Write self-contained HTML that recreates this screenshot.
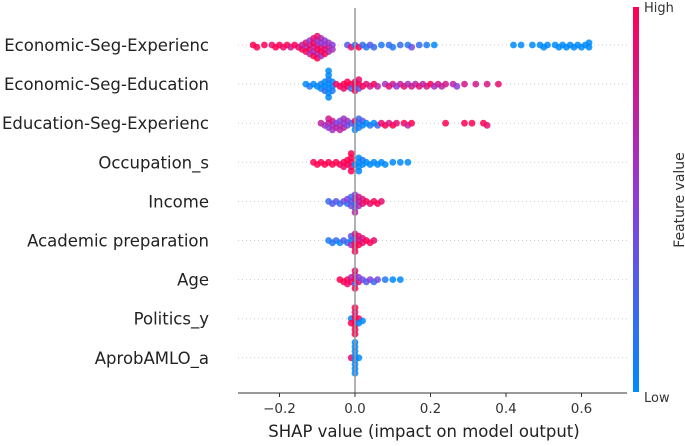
<!DOCTYPE html>
<html><head><meta charset="utf-8"><style>
body{margin:0;background:#fff}
svg{font-family:"DejaVu Sans","Liberation Sans",sans-serif}
</style></head><body>
<svg id="c" width="685" height="441" viewBox="0 0 685 441" xmlns="http://www.w3.org/2000/svg">
<defs><linearGradient id="cb" x1="0" y1="1" x2="0" y2="0">
<stop offset="0" stop-color="#008afb"/><stop offset="0.5" stop-color="#8c3cdc"/><stop offset="1" stop-color="#ff0052"/></linearGradient></defs>
<g id="rows"></g>
<g id="dots"></g>
<line x1="355" y1="8" x2="355" y2="393" stroke="#999" stroke-width="1.5"/>
<line x1="238" y1="393" x2="627" y2="393" stroke="#333" stroke-width="1"/>
<g id="ticks"></g>
<text x="424" y="437" font-size="16.5" text-anchor="middle" fill="#222">SHAP value (impact on model output)</text>
<rect x="633" y="7" width="6" height="385" fill="url(#cb)"/>
<text x="644" y="12" font-size="13" fill="#333">High</text>
<text x="644" y="402" font-size="13" fill="#333">Low</text>
<text transform="translate(684,200) rotate(-90)" font-size="14" text-anchor="middle" fill="#333">Feature value</text>
</svg>
<script>
const features=["Economic-Seg-Experienc","Economic-Seg-Education","Education-Seg-Experienc","Occupation_s","Income","Academic preparation","Age","Politics_y","AprobAMLO_a"];
const tickValues=[-0.2,0.0,0.2,0.4,0.6];
const tickLabels=["\u22120.2","0.0","0.2","0.4","0.6"];
const shap1=[-0.27,-0.26,-0.24,-0.22,-0.21,-0.20,-0.19,-0.18,-0.17,-0.16,-0.15,-0.14,-0.14,-0.13,-0.13,-0.13,-0.12,-0.12,-0.12,-0.12,-0.11,-0.11,-0.11,-0.11,-0.11,-0.10,-0.10,-0.10,-0.10,-0.10,-0.10,-0.09,-0.09,-0.09,-0.09,-0.09,-0.08,-0.08,-0.08,-0.08,-0.07,-0.07,-0.07,-0.06,-0.06,-0.02,-0.01,0.0,0.01,0.02,0.03,0.04,0.05,0.07,0.09,0.10,0.12,0.14,0.15,0.17,0.19,0.21,0.42,0.44,0.47,0.49,0.50,0.51,0.53,0.54,0.55,0.56,0.57,0.58,0.59,0.60,0.61,0.62,0.62];
const fv1=[1,1,1,0.9,1,1,0.9,1,0.8,1,0.9,0.7,1,0.6,0.9,1,0.8,1,0.5,0.7,0.7,1,0.6,0.9,1,0.8,1,0.6,0.7,0.9,1,0.9,0.5,1,0.7,0.6,0.6,0.9,0.5,1,0.8,0.6,0.7,0.5,0.6,0.3,0.9,0.2,1,0.2,0.1,0.3,0.2,0.1,0.2,0.1,0.2,0.1,0.4,0.2,0.1,0,0,0,0,0,0,0,0,0,0,0,0,0,0,0,0,0,0];
const shap2=[-0.13,-0.12,-0.11,-0.10,-0.09,-0.09,-0.08,-0.08,-0.08,-0.07,-0.07,-0.07,-0.07,-0.07,-0.07,-0.07,-0.06,-0.06,-0.06,-0.05,-0.04,-0.03,-0.03,-0.02,-0.02,-0.01,-0.01,0.0,0.0,0.0,0.01,0.01,0.01,0.02,0.03,0.04,0.05,0.06,0.08,0.09,0.10,0.11,0.12,0.13,0.14,0.15,0.16,0.17,0.18,0.19,0.20,0.21,0.22,0.23,0.24,0.26,0.27,0.29,0.32,0.35,0.38];
const fv2=[0,0.1,0,0,0.1,0,0,0,0.2,0,0,0.1,0,0,0,0,0,0,0.1,0.9,1,1,0.9,1,1,1,0.2,1,0.9,1,1,0.3,0.9,1,0.9,0.8,1,0.7,0.6,0.9,0.8,0.5,0.7,0.9,0.6,0.8,0.7,0.9,0.7,0.8,1,0.6,0.8,0.7,0.8,0.7,0.5,0.8,0.8,0.8,0.9];
const shap3=[-0.09,-0.08,-0.07,-0.07,-0.07,-0.06,-0.06,-0.06,-0.05,-0.05,-0.04,-0.04,-0.04,-0.03,-0.03,-0.03,-0.02,-0.02,-0.01,0.0,0.0,0.0,0.01,0.01,0.01,0.02,0.02,0.03,0.04,0.05,0.06,0.07,0.08,0.09,0.10,0.11,0.13,0.14,0.15,0.24,0.29,0.31,0.34,0.35];
const fv3=[0.7,0.6,0.7,0.5,0.8,0.6,0.8,0.6,0.5,0.7,0.6,0.4,0.7,0.5,0.7,0.6,0.4,0.6,0.3,0.2,0.9,0,0,0.1,0.2,0,0.3,0,0.1,0,0.2,0.9,1,0.8,1,0.9,1,0.7,1,1,1,1,1,0.9];
const shap4=[-0.11,-0.10,-0.09,-0.08,-0.07,-0.06,-0.05,-0.04,-0.03,-0.03,-0.02,-0.02,-0.01,-0.01,-0.01,-0.01,-0.01,0.0,0.01,0.01,0.01,0.01,0.02,0.02,0.03,0.04,0.05,0.06,0.07,0.08,0.10,0.12,0.14];
const fv4=[1,1,1,1,1,1,1,1,1,0.9,1,1,1,0.9,1,1,1,0,0,0,0,0,0,0.1,0,0,0,0,0,0,0,0,0];
const shap5=[-0.07,-0.06,-0.05,-0.04,-0.03,-0.02,-0.02,-0.01,-0.01,-0.01,0.0,0.0,0.0,0.0,0.0,0.01,0.01,0.01,0.02,0.02,0.03,0.04,0.05,0.06,0.07];
const fv5=[0.2,0.3,0.3,0.2,0.4,0.1,0.5,0.3,0.4,0.2,0.2,0.6,0.4,0.5,0.7,0.7,0.6,0.8,0.9,0.8,1,0.9,1,1,0.9];
const shap6=[-0.07,-0.06,-0.05,-0.04,-0.03,-0.02,-0.01,-0.01,-0.01,0.0,0.0,0.0,0.0,0.0,0.01,0.01,0.01,0.02,0.02,0.03,0.04,0.05];
const fv6=[0.1,0.1,0.2,0.0,0.3,0.2,0.0,0.6,0.3,0.9,0.4,1,0.8,1,0.8,1,0.9,0.9,0.8,1,1,0.9];
const shap7=[-0.04,-0.03,-0.02,-0.02,-0.01,-0.01,0.0,0.0,0.0,0.0,0.0,0.01,0.01,0.02,0.03,0.04,0.05,0.06,0.08,0.10,0.12];
const fv7=[1,1,1,0.9,1,0.7,1,0.3,0.8,1,0.9,0.9,0.5,0.4,0.3,0.5,0.2,0.4,0.1,0,0];
const shap8=[-0.01,-0.01,0.0,0.0,0.0,0.0,0.0,0.0,0.0,0.01,0.01,0.02];
const fv8=[0,1,1,1,1,0.9,1,1,1,1,0,0];
const shap9=[-0.01,0.0,0.0,0.0,0.0,0.0,0.0,0.0,0.0,0.01];
const fv9=[0.9,0,0,0,0,0,0,0,0,0];
const shapRows=[shap1,shap2,shap3,shap4,shap5,shap6,shap7,shap8,shap9];
const fvRows=[fv1,fv2,fv3,fv4,fv5,fv6,fv7,fv8,fv9];

const NS="http://www.w3.org/2000/svg";
const x0=355, pxPerUnit=377.5, rowTop=45, rowStep=39.1;
const xs=v=>x0+v*pxPerUnit;
const ys=i=>rowTop+i*rowStep;
function col(t){
  const a=[0,138,251],m=[140,60,220],b=[255,0,82];
  let p,q,u; if(t<0.5){p=a;q=m;u=t/0.5}else{p=m;q=b;u=(t-0.5)/0.5}
  return `rgb(${p.map((c,k)=>Math.round(c+(q[k]-c)*u)).join(',')})`;
}
const rows=document.getElementById('rows'),dots=document.getElementById('dots'),ticks=document.getElementById('ticks');
const minDist=4.2, stepY=2.2;
features.forEach((f,i)=>{
  const y=ys(i);
  const ln=document.createElementNS(NS,'line');
  
  
  ln.setAttribute('x1',238);ln.setAttribute('x2',627);ln.setAttribute('y1',y);ln.setAttribute('y2',y);
  ln.setAttribute('stroke','#ccc');ln.setAttribute('stroke-dasharray','1,3');
  rows.appendChild(ln);
  const t=document.createElementNS(NS,'text');
  
  
  t.setAttribute('x',209);t.setAttribute('y',y+6);t.setAttribute('text-anchor','end');
  t.setAttribute('font-size','16.5');t.setAttribute('fill','#222');t.textContent=f;
  rows.appendChild(t);
  const sv=shapRows[i],fv=fvRows[i];
  const placed=[];
  sv.forEach((v,j)=>{
    const px=xs(v);
    let off=0;
    for(let s=0;s<20;s++){
      const cand=Math.ceil(s/2)*stepY*(s%2?1:-1);
      if(placed.every(p=>Math.hypot(p[0]-px,p[1]-cand)>=minDist)){off=cand;break;}
    }
    off=Math.max(-17,Math.min(17,off));
    placed.push([px,off]);
    const c=document.createElementNS(NS,'circle');
    
    
    c.setAttribute('cx',px.toFixed(1));c.setAttribute('cy',(y+off).toFixed(1));
    c.setAttribute('r',3.4);c.setAttribute('fill',col(fv[j]));c.setAttribute('fill-opacity','0.85');
    dots.appendChild(c);
  });
});
tickValues.forEach((v,i)=>{
  const x=xs(v);
  const l=document.createElementNS(NS,'line');
  
  
  l.setAttribute('x1',x);l.setAttribute('x2',x);l.setAttribute('y1',393);l.setAttribute('y2',397);l.setAttribute('stroke','#333');
  ticks.appendChild(l);
  const t=document.createElementNS(NS,'text');
  
  
  t.setAttribute('x',x);t.setAttribute('y',413);t.setAttribute('text-anchor','middle');t.setAttribute('font-size','13.5');t.setAttribute('fill','#333');
  t.textContent=tickLabels[i];
  ticks.appendChild(t);
});
</script>
</body></html>
